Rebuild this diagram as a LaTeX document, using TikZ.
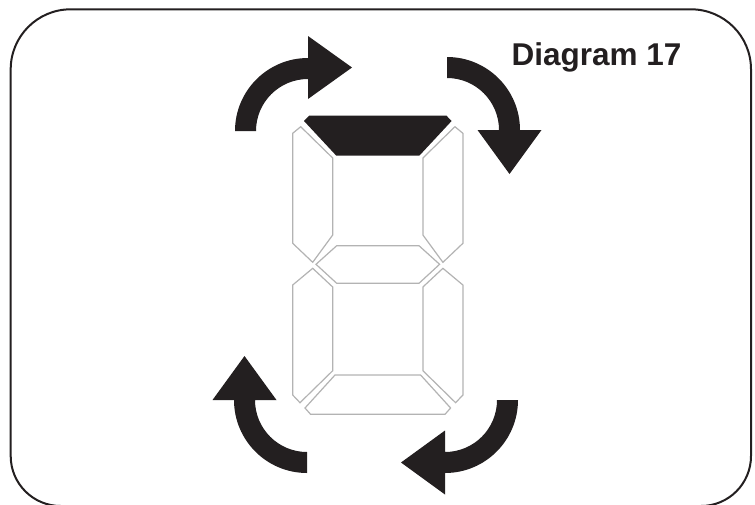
\documentclass[tikz,border=0pt]{standalone}
\usepackage{fontspec}
\setmainfont{Liberation Sans}
\definecolor{ink}{HTML}{231F20}
\definecolor{seg}{HTML}{B3B3B3}
\begin{document}
\begin{tikzpicture}[x=1pt,y=-1pt,
  frame/.style={draw=ink,line width=2pt},
  offseg/.style={draw=seg,line width=1.2pt,line join=miter,fill=white},
  onseg/.style={fill=ink,draw=none},
  turnarrow/.style={fill=ink,draw=none}]
\useasboundingbox (0,0) rectangle (755,504);
% frame
\draw[frame] (10.7,456) -- (10.7,69.3) arc[start angle=180,end angle=270,radius=60]
  -- (691,9.3) arc[start angle=270,end angle=360,radius=60]
  -- (751,456) arc[start angle=0,end angle=90,radius=50]
  -- (60.7,506) arc[start angle=90,end angle=180,radius=50] -- cycle;
% seven segment
\fill[onseg] (304,121) -- (309.3,115.5) -- (446.3,115.5) -- (451.6,121) -- (419.3,155.7) -- (336.3,155.7) -- cycle;
\draw[offseg] (292.7,133.3) -- (300.7,126.7) -- (332.7,158) -- (332.7,235) -- (312.7,262.3) -- (292.7,243.3) -- cycle;
\draw[offseg] (462.9,133.3) -- (454.9,126.7) -- (422.9,158) -- (422.9,235) -- (442.9,262.3) -- (462.9,243.3) -- cycle;
\draw[offseg] (316,264.3) -- (336.7,245.7) -- (419,245.7) -- (439.6,264.3) -- (419,283.3) -- (336.7,283.3) -- cycle;
\draw[offseg] (312.7,268.3) -- (332.7,287) -- (332.7,370.7) -- (300,402.7) -- (292.7,395) -- (292.7,285) -- cycle;
\draw[offseg] (442.9,268.3) -- (422.9,287) -- (422.9,370.7) -- (455.6,402.7) -- (462.9,395) -- (462.9,285) -- cycle;
\draw[offseg] (305,408) -- (335,375) -- (420.6,375) -- (450.6,408) -- (445,414.3) -- (310.6,414.3) -- cycle;
% arrows
\fill[turnarrow] (235,131) arc[start angle=180,end angle=270,radius=73]
  -- (308,36) -- (352,67.5) -- (308,99) -- (308,79)
  arc[start angle=270,end angle=180,radius=52] -- cycle;
\fill[turnarrow] (447,57) arc[start angle=270,end angle=360,radius=73]
  -- (541.5,130) -- (509.5,174) -- (477.5,130) -- (499,130)
  arc[start angle=0,end angle=-90,radius=52] -- cycle;
\fill[turnarrow] (307,473) arc[start angle=90,end angle=180,radius=73]
  -- (212.5,400) -- (244.5,356) -- (276.5,400) -- (255,400)
  arc[start angle=180,end angle=90,radius=52] -- cycle;
\fill[turnarrow] (518,400) arc[start angle=0,end angle=90,radius=73]
  -- (445,494.5) -- (401,462.5) -- (445,430.5) -- (445,452)
  arc[start angle=90,end angle=0,radius=52] -- cycle;
% title
\node[anchor=base west,inner sep=0pt,text=ink,font=\bfseries\fontsize{31.5}{36}\selectfont] (title) at (511.5,65) {Diagram 17};
\end{tikzpicture}
\end{document}
